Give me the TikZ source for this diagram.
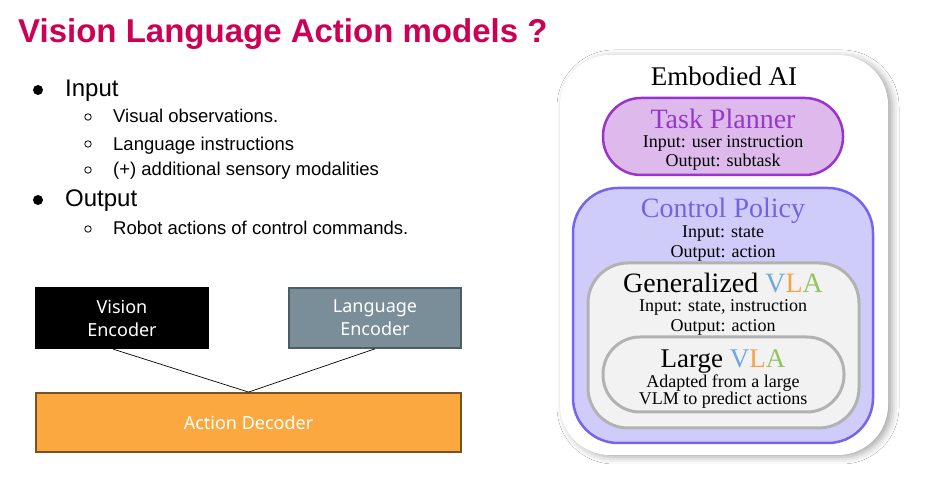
\documentclass[tikz,border=0pt]{standalone}
\usepackage{fontspec}
\usetikzlibrary{shadows.blur,calc}
\newfontfamily\ttlfont{Liberation Sans}
\newfontfamily\arfont{Liberation Sans}
\newfontfamily\sefont{Liberation Serif}
\newfontfamily\bxfont{Noto Sans}
\definecolor{titlered}{RGB}{204,0,85}
\definecolor{tpfill}{RGB}{222,186,236}
\definecolor{tpdraw}{RGB}{153,51,204}
\definecolor{tptext}{RGB}{150,55,200}
\definecolor{cpfill}{RGB}{208,204,250}
\definecolor{cpdraw}{RGB}{118,100,236}
\definecolor{cptext}{RGB}{112,100,225}
\definecolor{gfill}{RGB}{242,242,242}
\definecolor{gdraw}{RGB}{178,178,178}
\definecolor{vlav}{RGB}{111,168,220}
\definecolor{vlal}{RGB}{246,162,70}
\definecolor{vlaa}{RGB}{147,196,100}
\definecolor{langfill}{RGB}{122,142,153}
\definecolor{langdraw}{RGB}{78,92,100}
\definecolor{actfill}{RGB}{252,168,64}
\definecolor{actdraw}{RGB}{122,82,30}
\newcommand{\vlaword}{{\color{vlav}V}{\color{vlal}L}{\color{vlaa}A}}
\begin{document}
\begin{tikzpicture}[x=1pt,y=1pt,
  txt/.style={inner sep=0pt, anchor=base west},
  big/.style={txt, font=\arfont\fontsize{24}{28}\selectfont},
  small/.style={txt, font=\arfont\fontsize{18.5}{22}\selectfont},
  dotb/.style={circle, fill=black, inner sep=0pt, minimum size=10pt},
  ringb/.style={circle, draw=black, line width=0.8pt, inner sep=0pt, minimum size=6.5pt},
  encbox/.style={rectangle, inner sep=0pt, text=white, align=center,
     font=\bxfont\fontsize{18}{23}\selectfont},
  rtitle/.style={inner sep=0pt, anchor=base, font=\sefont\fontsize{28}{32}\selectfont},
  rsmall/.style={inner sep=0pt, anchor=base, font=\sefont\fontsize{18}{20}\selectfont},
  rbox/.style={rectangle, inner sep=0pt},
]
\useasboundingbox (0,0) rectangle (944,478);
\fill[white] (0,0) rectangle (944,478);

% title
\node[txt, text=titlered, font=\ttlfont\bfseries\fontsize{33}{39}\selectfont] (title) at (18,435) {Vision Language Action models ?};

% bullet list
\node[dotb] (bi) at (38,388) {};
\node[big] (tin) at (65,381) {Input};
\node[ringb] (r1) at (88,361) {};
\node[small] (t1) at (113,355) {Visual observations.};
\node[ringb] (r2) at (88,334) {};
\node[small] (t2) at (113,327) {Language instructions};
\node[ringb] (r3) at (88,308) {};
\node[small] (t3) at (113,302) {(+) additional sensory modalities};
\node[dotb] (bo) at (38,278) {};
\node[big] (tout) at (65,271) {Output};
\node[ringb] (r4) at (88,249) {};
\node[small] (t4) at (113,243) {Robot actions of control commands.};

% encoder / decoder diagram
\node[encbox, fill=black, minimum width=174pt, minimum height=62pt] (vis) at (122,160) {Vision\\Encoder};
\node[encbox, fill=langfill, draw=langdraw, line width=1.6pt, minimum width=172pt, minimum height=60pt] (lang) at (375,160) {Language\\Encoder};
\node[encbox, fill=actfill, draw=actdraw, line width=1.8pt, minimum width=425pt, minimum height=59pt] (act) at (248.5,55.5) {Action Decoder};
\coordinate (join) at (act.north);
\draw[line width=0.7pt] ($(vis.south west)!0.45!(vis.south east)$) -- (join);
\draw[line width=0.7pt] (lang.south) -- (join);

% Embodied AI
\node[rbox, fill=white, rounded corners=50pt, minimum width=328pt, minimum height=400pt,
  blur shadow={shadow xshift=4pt, shadow yshift=-2pt, shadow blur radius=7pt, shadow opacity=35}] (outer) at (724,223) {};
\node[rtitle, font=\sefont\fontsize{27}{32}\selectfont] (eai) at (724,392) {Embodied AI};

\node[rbox, fill=tpfill, draw=tpdraw, line width=2.5pt, rounded corners=38pt, minimum width=240pt, minimum height=77pt] (tp) at (723,341.5) {};
\node[rtitle, text=tptext] (tpt) at (723,349) {Task Planner};
\node[rsmall] (tpi) at (723,330) {Input: user instruction};
\node[rsmall] (tpo) at (723,311) {Output: subtask};

\node[rbox, fill=cpfill, draw=cpdraw, line width=2.5pt, rounded corners=45pt, minimum width=300pt, minimum height=255pt] (cp) at (723,162.5) {};
\node[rtitle, text=cptext] (cpt) at (723,260) {Control Policy};
\node[rsmall] (cpi) at (723,240) {Input: state};
\node[rsmall] (cpo) at (723,220) {Output: action};

\node[rbox, fill=gfill, draw=gdraw, line width=3pt, rounded corners=40pt, minimum width=271pt, minimum height=165pt] (gen) at (723.5,132.5) {};
\node[rtitle] (gent) at (723,185) {Generalized \vlaword};
\node[rsmall] (geni) at (723,166) {Input: state, instruction};
\node[rsmall] (geno) at (723,146) {Output: action};

\node[rbox, fill=gfill, draw=gdraw, line width=3pt, rounded corners=37pt, minimum width=241pt, minimum height=75pt] (lg) at (723.5,103.5) {};
\node[rtitle, font=\sefont\fontsize{27}{32}\selectfont] (lgt) at (723,110) {Large \vlaword};
\node[rsmall] (lga) at (723,90) {Adapted from a large};
\node[rsmall] (lgv) at (723,73) {VLM to predict actions};
\end{tikzpicture}
\end{document}
